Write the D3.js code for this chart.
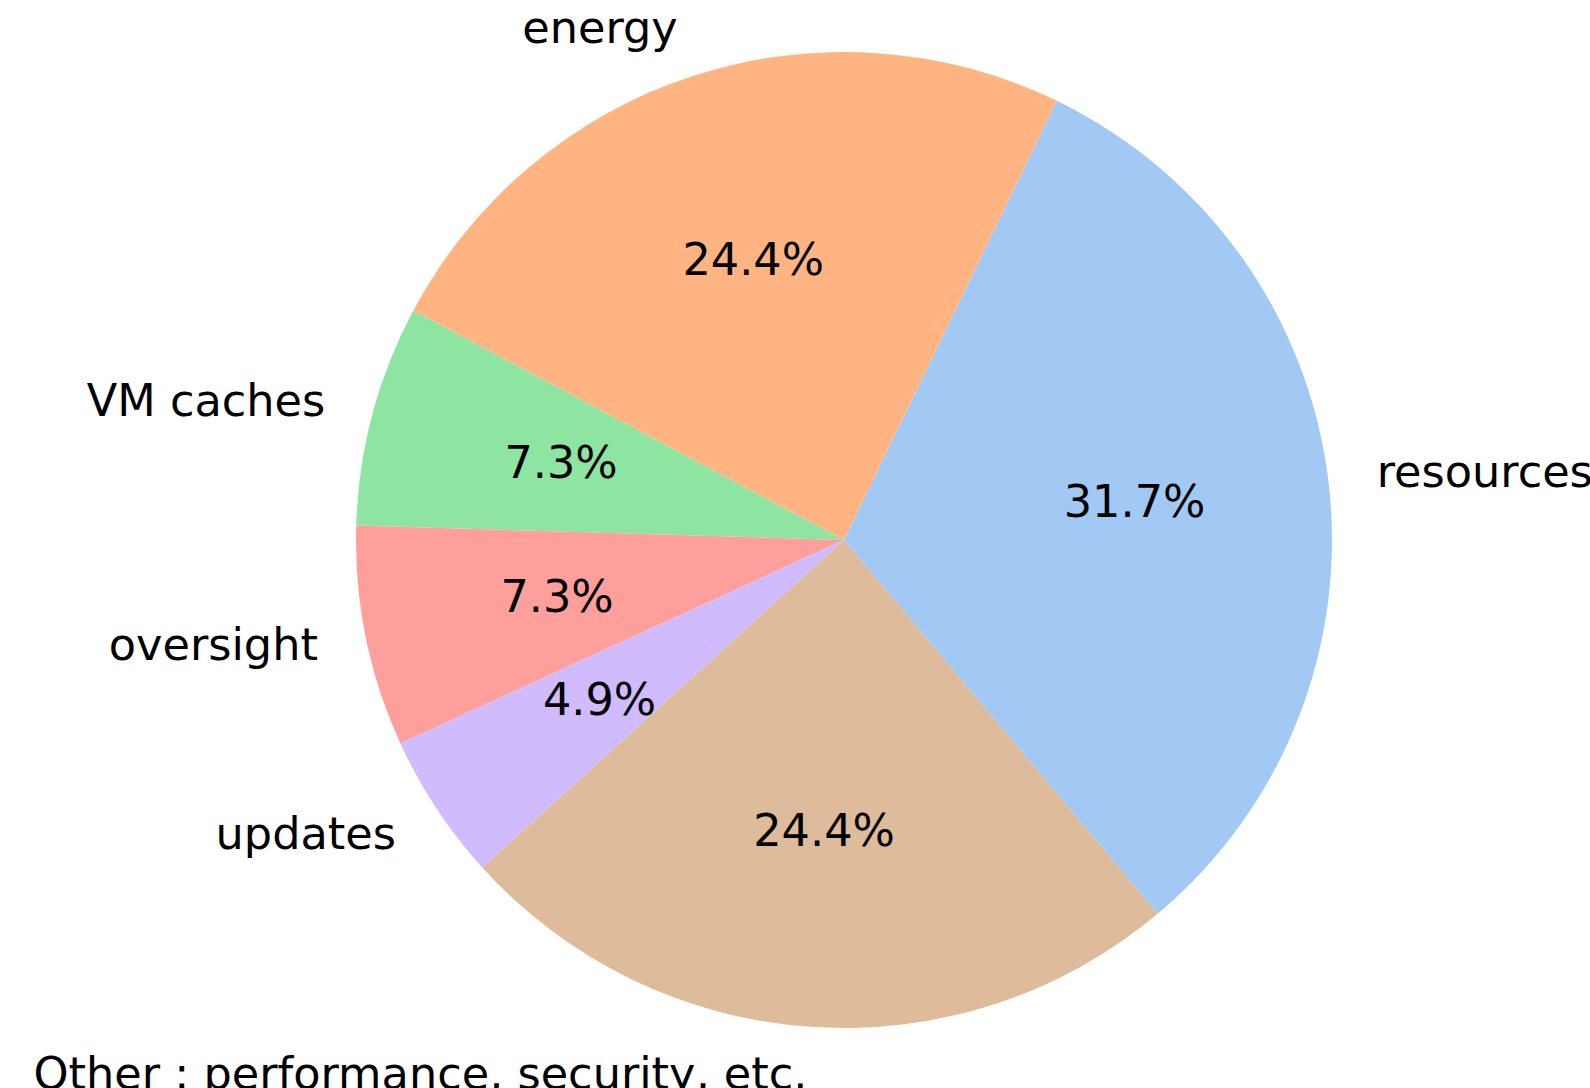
<!DOCTYPE html>
<head>
	<meta charset="utf-8">
	<title>Pie</title>
<style>
	body {
		margin:0;
		background-color: #ffffff;
		overflow: hidden;
	}
	svg {
		display: block;
	}
	text {
		font-family: "DejaVu Sans", sans-serif;
		font-size: 44.6px;
		fill: #000000;
	}
</style>
</head>
<script src="https://d3js.org/d3.v7.min.js"></script>
<body>
	<script>
	    var width = 1590;
	    var height = 1088;

	    // data, counter-clockwise from the start angle (matplotlib order)
	    var labels = ["resources", "energy", "VM caches", "oversight", "updates", "Other : performance, security, etc."];
	    var counts = [13, 10, 3, 3, 2, 10];
	    var colors = ["#a1c9f4", "#ffb482", "#8de5a1", "#ff9f9b", "#d0bbff", "#debb9b"];

	    var cx = 844, cy = 540, r = 488;
	    var startDeg = -50;   // degrees, from 3 o'clock, counter-clockwise

	    var svg = d3.select("body").append("svg")
	    	.attr("width", width)
	    	.attr("height", height);

	    var g = svg.append("g")
	    	.attr("transform", "translate(" + cx + "," + cy + ")");

	    var total = d3.sum(counts);
	    var rows = labels.map(function(l, i) { return {label: l, value: counts[i], color: colors[i]}; });

	    // d3 angles go clockwise from 12 o'clock; matplotlib goes counter-clockwise from 3 o'clock
	    // so run the pie backwards: start = 90 - startDeg, end = start - 360
	    var a0 = (90 - startDeg) * Math.PI / 180;
	    var pie = d3.pie()
	    	.value(function(d) { return d.value; })
	    	.sort(null)
	    	.startAngle(a0)
	    	.endAngle(a0 - 2 * Math.PI);

	    var arcs = pie(rows);

	    var arc = d3.arc().innerRadius(0).outerRadius(r);

	    g.selectAll("path.slice")
	    	.data(arcs)
	    	.enter().append("path")
	    	.attr("class", "slice")
	    	.attr("d", arc)
	    	.style("fill", function(d) { return d.data.color; });

	    function mid(d) { return (d.startAngle + d.endAngle) / 2; }

	    // outer labels at 1.1 r, right aligned on the left side
	    g.selectAll("text.lab")
	    	.data(arcs)
	    	.enter().append("text")
	    	.attr("class", "lab")
	    	.attr("x", function(d) { return 1.1 * r * Math.sin(mid(d)); })
	    	.attr("y", function(d) { return -1.1 * r * Math.cos(mid(d)); })
	    	.attr("dy", "0.3em")
	    	.attr("text-anchor", function(d) { return Math.sin(mid(d)) < 0 ? "end" : "start"; })
	    	.text(function(d) { return d.data.label; });

	    // percentages at 0.6 r
	    g.selectAll("text.pct")
	    	.data(arcs)
	    	.enter().append("text")
	    	.attr("class", "pct")
	    	.attr("x", function(d) { return 0.6 * r * Math.sin(mid(d)); })
	    	.attr("y", function(d) { return -0.6 * r * Math.cos(mid(d)); })
	    	.attr("dy", "0.3em")
	    	.attr("text-anchor", "middle")
	    	.text(function(d) { return (100 * d.value / total).toFixed(1) + "%"; });
	</script>
</body>
